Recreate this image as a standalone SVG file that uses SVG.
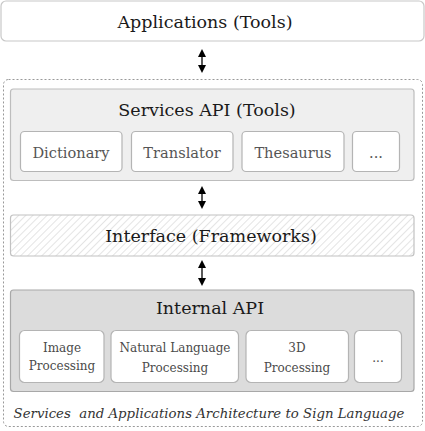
<svg xmlns="http://www.w3.org/2000/svg" width="425" height="431" viewBox="0 0 425 431">
<style>
text{font-family:"DejaVu Serif","Liberation Serif",serif;text-anchor:middle}
.title{font-size:17.5px;fill:#1a1a1a}
.sub{font-size:14.6px;fill:#555}
.sub2{font-size:12px;fill:#4a4a4a}
.box{fill:#fff;stroke:#b4b4b4;stroke-width:1.2}
.conn{stroke:#000;stroke-width:1.3;fill:none}
</style>
<defs>
<pattern id="hatch" width="5" height="5" patternUnits="userSpaceOnUse" patternTransform="rotate(45)">
<rect width="5" height="5" fill="#fff"/>
<line x1="0" y1="0" x2="0" y2="5" stroke="#d2d2d2" stroke-width="1.2"/>
</pattern>
<marker id="ah" markerWidth="8" markerHeight="8" refX="4" refY="4" orient="auto-start-reverse" markerUnits="userSpaceOnUse">
<path d="M0,0 L8,4 L0,8 z" fill="#000"/>
</marker>
</defs>
<g id="applications">
<rect x="1" y="1" width="423" height="40" rx="5" fill="#fff" stroke="#c8c8c8" stroke-width="1.2"/>
<text class="title" x="205" y="28">Applications (Tools)</text>
</g>
<g id="container">
<rect x="3.5" y="79.5" width="419" height="347" rx="5" fill="none" stroke="#999" stroke-width="1" stroke-dasharray="2,2"/>
<text x="209" y="418" font-size="13.3" font-style="italic" fill="#333" xml:space="preserve">Services  and Applications Architecture to Sign Language</text>
</g>
<g id="services-api">
<rect x="10.5" y="89" width="403.5" height="91.5" rx="3" fill="#efefef" stroke="#bdbdbd" stroke-width="1.2"/>
<text class="title" x="207" y="116">Services API (Tools)</text>
</g>
<g id="dictionary"><rect class="box" x="20.5" y="131.5" width="101.5" height="40" rx="4"/><text class="sub" x="71" y="157.5">Dictionary</text></g>
<g id="translator"><rect class="box" x="131.5" y="131.5" width="101.5" height="40" rx="4"/><text class="sub" x="182" y="157.5">Translator</text></g>
<g id="thesaurus"><rect class="box" x="242" y="131.5" width="102" height="40" rx="4"/><text class="sub" x="293" y="157.5">Thesaurus</text></g>
<g id="services-more"><rect class="box" x="352.5" y="131.5" width="47" height="40" rx="4"/><text class="sub" x="376" y="157.5">...</text></g>
<g id="interface">
<rect x="10.5" y="215" width="403.5" height="41" rx="3" fill="url(#hatch)" stroke="#c2c2c2" stroke-width="1.2"/>
<text class="title" x="211" y="242">Interface (Frameworks)</text>
</g>
<g id="internal-api">
<rect x="10.5" y="290" width="403.5" height="101.5" rx="3" fill="#dcdcdc" stroke="#a8a8a8" stroke-width="1.2"/>
<text class="title" x="210" y="314" font-size="18.3">Internal API</text>
</g>
<g id="image-processing"><rect class="box" x="19.5" y="330.5" width="84.5" height="52" rx="5"/><text class="sub2" x="62" y="352">Image</text><text class="sub2" x="62" y="370">Processing</text></g>
<g id="nlp"><rect class="box" x="111" y="330.5" width="127.5" height="52" rx="5"/><text class="sub2" x="175" y="352">Natural Language</text><text class="sub2" x="175" y="372">Processing</text></g>
<g id="processing-3d"><rect class="box" x="246" y="330.5" width="102.5" height="52" rx="5"/><text class="sub2" x="297" y="352">3D</text><text class="sub2" x="297" y="372">Processing</text></g>
<g id="internal-more"><rect class="box" x="354.5" y="330.5" width="47" height="52" rx="5"/><text class="sub2" x="378" y="362">...</text></g>
<g id="connectors">
<line class="conn" x1="202" y1="53" x2="202" y2="69" marker-start="url(#ah)" marker-end="url(#ah)"/>
<line class="conn" x1="202" y1="190" x2="202" y2="205" marker-start="url(#ah)" marker-end="url(#ah)"/>
<line class="conn" x1="202" y1="264" x2="202" y2="282" marker-start="url(#ah)" marker-end="url(#ah)"/>
</g>
</svg>
